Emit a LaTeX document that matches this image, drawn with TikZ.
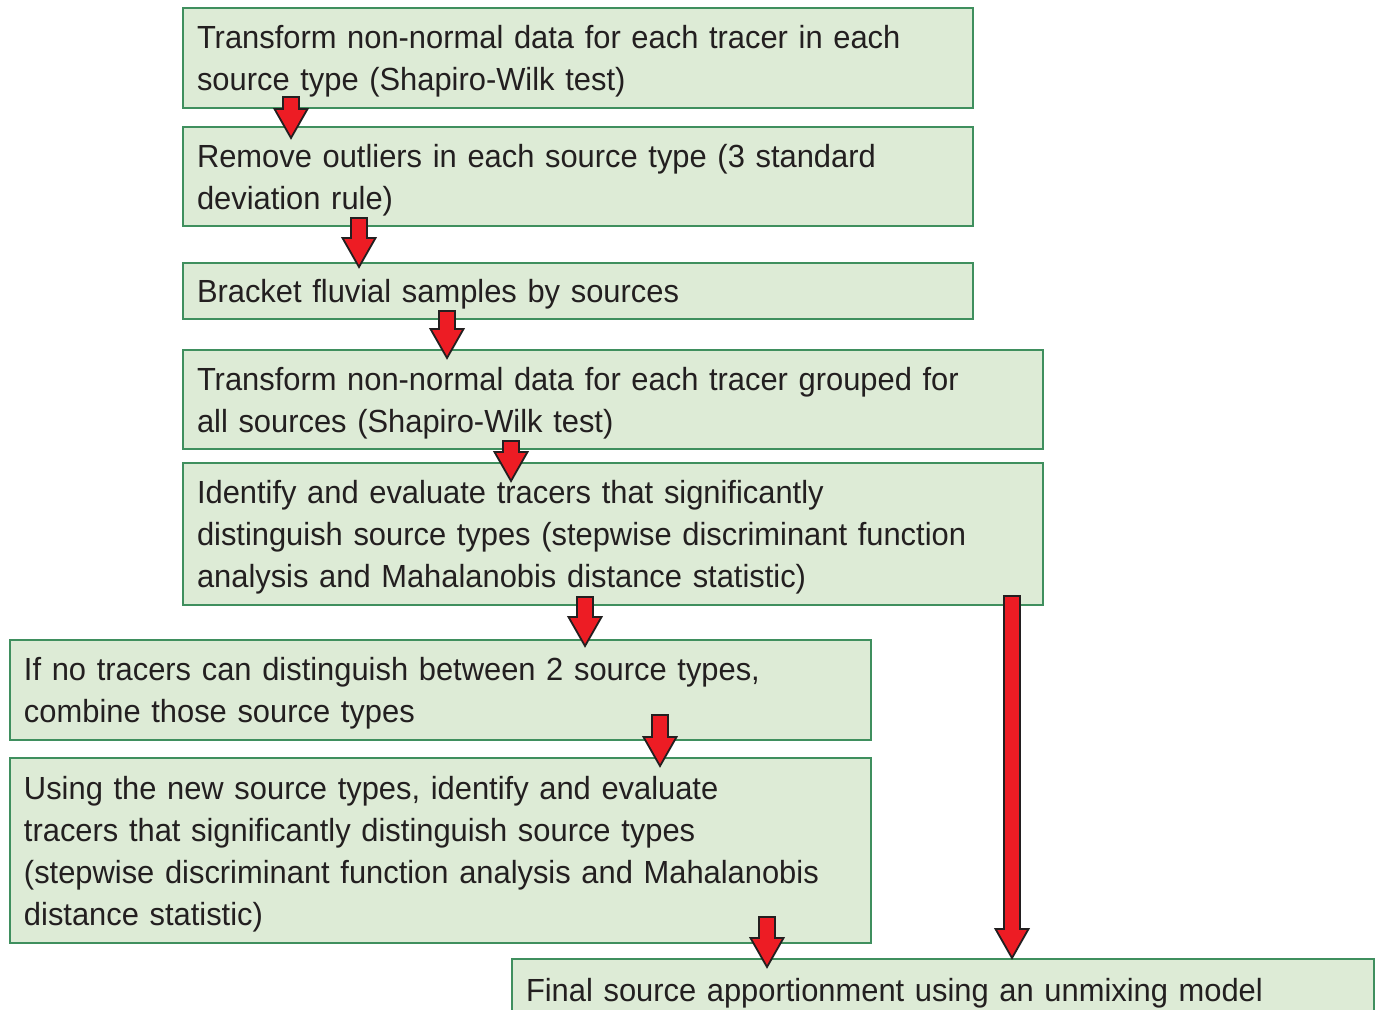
\documentclass[tikz,border=0pt]{standalone}
\usepackage{fontspec}
\setmainfont[FakeStretch=0.965]{Liberation Sans}
\definecolor{boxfill}{HTML}{DDEBD6}
\definecolor{boxline}{HTML}{3F8F5E}
\definecolor{arrowred}{HTML}{ED1C24}
\definecolor{inkgray}{HTML}{231F20}
\tikzset{
  stepbox/.style={draw=boxline,fill=boxfill,line width=1pt,anchor=north west,
    align=left,inner xsep=7pt,inner ysep=0pt,text width=#1,text=inkgray,
    font=\fontsize{16}{21}\selectfont,execute at begin node={\rule{0pt}{15pt}}},
  arrowline/.style={draw=inkgray,fill=arrowred,line width=0.9pt,line join=miter}
}
% block arrow: x, top, tip (pixel units)
\newcommand\redarrow[3]{%
  \draw[arrowline] (#1-8,#2) -- (#1+8,#2) -- (#1+8,#3-29) -- (#1+16.5,#3-29)
    -- (#1,#3) -- (#1-16.5,#3-29) -- (#1-8,#3-29) -- cycle;}
\begin{document}
\begin{tikzpicture}[x=0.5pt,y=-0.5pt]
\clip (0,0) rectangle (1380,1010);
\fill[white] (0,0) rectangle (1380,1010);
% boxes
\node[stepbox=381pt,minimum height=50pt] (b1) at (182,7)
  {Transform non-normal data for each tracer in each\\source type (Shapiro-Wilk test)};
\node[stepbox=381pt,minimum height=49.5pt] (b2) at (182,126)
  {Remove outliers in each source type (3 standard\\deviation rule)};
\node[stepbox=381pt,minimum height=28pt] (b3) at (182,262)
  {Bracket fluvial samples by sources};
\node[stepbox=416pt,minimum height=49.5pt] (b4) at (182,349)
  {Transform non-normal data for each tracer grouped for\\all sources (Shapiro-Wilk test)};
\node[stepbox=416pt,minimum height=71pt] (b5) at (182,462)
  {Identify and evaluate tracers that significantly\\distinguish source types (stepwise discriminant function\\analysis and Mahalanobis distance statistic)};
\node[stepbox=416.5pt,minimum height=50pt] (b6) at (9,639)
  {If no tracers can distinguish between 2 source types,\\combine those source types};
\node[stepbox=416.5pt,minimum height=92.5pt] (b7) at (9,757)
  {Using the new source types, identify and evaluate\\tracers that significantly distinguish source types\\(stepwise discriminant function analysis and Mahalanobis\\distance statistic)};
\node[stepbox=417pt,minimum height=31pt] (b8) at (511,958)
  {Final source apportionment using an unmixing model};
% arrows
\redarrow{291}{97}{138}
\redarrow{359}{218}{267}
\redarrow{447}{311}{358}
\redarrow{511}{441}{481}
\redarrow{585}{597}{646}
\redarrow{660}{715}{766}
\redarrow{767}{917}{967}
\redarrow{1012}{596}{958}
\end{tikzpicture}
\end{document}
